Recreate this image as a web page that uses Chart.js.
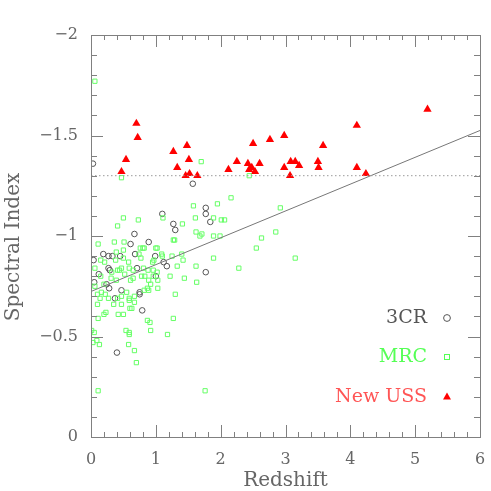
<!DOCTYPE html>
<html>
<head>
<meta charset="utf-8">
<script src="https://cdn.jsdelivr.net/npm/chart.js@4.4.1/dist/chart.umd.min.js"></script>
<style>
  html, body { margin: 0; padding: 0; background: #fff; }
  canvas { display: block; }
</style>
</head>
<body>
<canvas id="chart" width="491" height="491"></canvas>
<script>
(function () {
  'use strict';

  // ============================================================
  //  Data — redshift (z) vs spectral index (alpha)
  // ============================================================
  var crZ     = [0.03, 1.57, 1.77, 1.77, 1.84, 1.10, 1.27, 1.30, 0.67, 0.61, 0.89, 0.19, 0.33, 0.27, 0.45, 0.04, 0.68, 0.99,
                 1.12, 1.17, 0.27, 0.29, 0.71, 1.77, 1.00, 0.12, 0.05, 0.24, 0.28, 0.47, 0.75, 0.75, 0.37, 0.79, 0.40];
  var crAlpha = [-1.36, -1.26, -1.14, -1.11, -1.07, -1.11, -1.06, -1.03, -1.01, -0.96, -0.97, -0.91, -0.90, -0.90, -0.90, -0.88, -0.91, -0.90,
                 -0.87, -0.85, -0.84, -0.83, -0.84, -0.82, -0.80, -0.81, -0.77, -0.76, -0.74, -0.73, -0.72, -0.71, -0.69, -0.63, -0.42];

  var mrcZ     = [0.06, 0.47, 1.70, 2.44, 1.58, 1.95, 2.16, 2.92, 0.50, 0.73, 1.11, 1.61, 1.89, 2.01, 2.06, 0.41, 1.41, 1.62,
                  1.68, 1.71, 1.89, 1.99, 2.85, 2.63, 2.55, 1.27, 1.29, 0.11, 0.36, 0.51, 0.39, 0.50, 0.76, 0.80, 0.82, 1.00,
                  1.02, 1.09, 1.10, 1.25, 1.40, 1.42, 1.89, 2.28, 1.62, 1.33, 0.15, 0.21, 0.38, 0.50, 0.74, 0.77, 0.58, 0.59,
                  0.65, 0.81, 0.95, 0.97, 0.88, 0.96, 1.02, 0.47, 0.41, 0.44, 0.32, 0.06, 0.15, 0.31, 0.52, 0.65, 0.78, 0.83,
                  0.89, 0.96, 1.03, 1.22, 1.44, 1.63, 1.30, 0.61, 0.39, 0.20, 0.16, 0.10, 0.22, 0.55, 0.67, 0.47, 0.59, 0.92,
                  0.87, 0.82, 1.03, 0.06, 0.89, 0.27, 0.14, 0.41, 0.59, 0.67, 0.47, 0.35, 0.10, 0.60, 0.63, 0.50, 0.42, 0.23,
                  0.20, 0.11, 0.87, 0.91, 1.27, 0.92, 1.18, 0.54, 0.59, 0.59, 0.01, 0.05, 0.09, 0.03, 0.13, 0.58, 0.67, 0.70,
                  0.11, 1.76, 3.15];
  var mrcAlpha = [-1.77, -1.29, -1.37, -1.30, -1.15, -1.16, -1.19, -1.14, -1.09, -1.08, -1.09, -1.09, -1.09, -1.08, -1.08, -1.05, -1.06, -1.02,
                  -1.00, -1.01, -1.00, -1.00, -1.02, -0.99, -0.94, -0.98, -0.98, -0.96, -0.97, -0.97, -0.92, -0.93, -0.94, -0.94, -0.94, -0.94,
                  -0.94, -0.91, -0.90, -0.90, -0.91, -0.88, -0.89, -0.84, -0.85, -0.85, -0.88, -0.87, -0.88, -0.89, -0.91, -0.89, -0.87, -0.84,
                  -0.83, -0.84, -0.87, -0.88, -0.83, -0.83, -0.82, -0.84, -0.83, -0.83, -0.82, -0.84, -0.80, -0.79, -0.81, -0.79, -0.80, -0.80,
                  -0.78, -0.80, -0.78, -0.80, -0.79, -0.77, -0.71, -0.78, -0.78, -0.76, -0.72, -0.71, -0.71, -0.72, -0.70, -0.70, -0.69, -0.76,
                  -0.74, -0.73, -0.74, -0.75, -0.73, -0.69, -0.69, -0.69, -0.68, -0.67, -0.66, -0.66, -0.66, -0.64, -0.64, -0.61, -0.61, -0.62,
                  -0.61, -0.59, -0.58, -0.57, -0.59, -0.53, -0.51, -0.53, -0.52, -0.51, -0.53, -0.52, -0.48, -0.47, -0.46, -0.46, -0.43, -0.37,
                  -0.23, -0.23, -0.89];

  var ussZ     = [0.47, 0.54, 0.70, 0.72, 1.27, 1.48, 1.51, 1.33, 1.46, 1.52, 1.64, 2.12, 2.25, 2.42, 2.50, 2.60, 2.44, 2.48,
                  2.53, 2.76, 2.98, 2.98, 3.07, 3.08, 3.15, 3.21, 3.58, 3.50, 3.51, 4.10, 4.10, 4.24, 5.19];
  var ussAlpha = [-1.32, -1.38, -1.56, -1.49, -1.42, -1.45, -1.38, -1.34, -1.30, -1.31, -1.30, -1.33, -1.37, -1.36, -1.46, -1.36, -1.33, -1.34,
                  -1.32, -1.48, -1.50, -1.34, -1.30, -1.37, -1.37, -1.35, -1.45, -1.37, -1.34, -1.55, -1.34, -1.31, -1.63];

  // Linear fit and the USS cut-off
  var fitZ = [0, 6];
  var fitAlpha = [-0.724, -1.525];
  var cutZ = [0, 6];
  var cutAlpha = [-1.3, -1.3];

  var legendLabels = ['3CR', 'MRC', 'New USS'];
  var legendColors = ['#555555', '#55ff55', '#ff5555'];

  function pts(xs, ys) {
    return xs.map(function (x, i) { return { x: x, y: ys[i] }; });
  }

  var FONT = '"DejaVu Serif", serif';
  var INK = '#666666';
  var FRAME = '#808080';

  // ============================================================
  //  Frame, inward ticks, axis titles, legend
  // ============================================================
  var decorPlugin = {
    id: 'decor',
    afterDraw: function (chart) {
      var ctx = chart.ctx;
      var a = chart.chartArea;
      var xs = chart.scales.x, ys = chart.scales.y;
      var v, p, len;

      ctx.save();
      ctx.strokeStyle = FRAME;
      ctx.lineWidth = 1;
      ctx.strokeRect(Math.round(a.left) + 0.5, Math.round(a.top) + 0.5,
                     Math.round(a.right - a.left), Math.round(a.bottom - a.top));

      ctx.beginPath();
      for (var i = 0; i <= 30; i++) {
        v = i * 0.2;
        p = Math.round(xs.getPixelForValue(v)) + 0.5;
        len = (i % 5 === 0) ? 12 : 5;
        ctx.moveTo(p, a.bottom); ctx.lineTo(p, a.bottom - len);
        ctx.moveTo(p, a.top); ctx.lineTo(p, a.top + len);
      }
      for (var j = 0; j <= 20; j++) {
        v = -2 + j * 0.1;
        p = Math.round(ys.getPixelForValue(v)) + 0.5;
        len = (j % 5 === 0) ? 12 : 6;
        ctx.moveTo(a.left, p); ctx.lineTo(a.left + len, p);
        ctx.moveTo(a.right, p); ctx.lineTo(a.right - len, p);
      }
      ctx.stroke();

      // axis titles
      ctx.fillStyle = INK;
      ctx.font = '20px ' + FONT;
      ctx.textAlign = 'center';
      ctx.textBaseline = 'middle';
      ctx.fillText('Redshift', (a.left + a.right) / 2, 481);
      ctx.save();
      ctx.translate(14, 247);
      ctx.rotate(-Math.PI / 2);
      ctx.fillText('Spectral Index', 0, 0);
      ctx.restore();

      // legend
      ctx.font = '19px ' + FONT;
      ctx.textAlign = 'right';
      var ly = [318, 357, 397];
      var mx = 447;
      for (var k = 0; k < legendLabels.length; k++) {
        ctx.fillStyle = legendColors[k];
        ctx.fillText(legendLabels[k], 427, ly[k]);
      }
      ctx.lineWidth = 1;
      ctx.strokeStyle = '#555555';
      ctx.beginPath(); ctx.arc(mx, ly[0], 3.4, 0, Math.PI * 2); ctx.stroke();
      ctx.strokeStyle = '#55ff55';
      ctx.strokeRect(mx - 2.5, ly[1] - 2.5, 5, 5);
      ctx.fillStyle = '#ff0000';
      ctx.beginPath();
      ctx.moveTo(mx, ly[2] - 4.5); ctx.lineTo(mx + 4, ly[2] + 2.5); ctx.lineTo(mx - 4, ly[2] + 2.5);
      ctx.closePath(); ctx.fill();
      ctx.restore();
    }
  };

  // ============================================================
  //  Chart
  // ============================================================
  var ctx = document.getElementById('chart').getContext('2d');
  new Chart(ctx, {
    type: 'scatter',
    data: {
      datasets: [
        {
          type: 'line', label: 'cut', data: pts(cutZ, cutAlpha),
          borderColor: '#9a9a9a', borderWidth: 1, borderDash: [1.5, 2.5],
          pointRadius: 0, fill: false
        },
        {
          type: 'line', label: 'fit', data: pts(fitZ, fitAlpha),
          borderColor: '#777777', borderWidth: 1, pointRadius: 0, fill: false
        },
        {
          label: 'MRC', data: pts(mrcZ, mrcAlpha), pointStyle: 'rect',
          pointRadius: 3, borderColor: '#66ff66', borderWidth: 1, backgroundColor: 'rgba(0,0,0,0)'
        },
        {
          label: '3CR', data: pts(crZ, crAlpha), pointStyle: 'circle',
          pointRadius: 2.8, borderColor: '#555555', borderWidth: 1, backgroundColor: 'rgba(0,0,0,0)'
        },
        {
          label: 'New USS', data: pts(ussZ, ussAlpha), pointStyle: 'triangle',
          pointRadius: 4.8, borderColor: '#ff0000', borderWidth: 0, backgroundColor: '#ff0000'
        }
      ]
    },
    options: {
      responsive: false,
      animation: false,
      devicePixelRatio: 1,
      layout: { padding: { top: 35, right: 11, bottom: 0, left: 0 } },
      plugins: { legend: { display: false }, tooltip: { enabled: false } },
      elements: { point: { hoverRadius: 0 } },
      scales: {
        x: {
          type: 'linear', min: 0, max: 6,
          grid: { display: false, drawTicks: false },
          border: { display: false },
          ticks: { stepSize: 1, color: INK, padding: 13, font: { family: FONT, size: 16 } },
          afterFit: function (scale) {
            // keep the plot box fixed; labels may overhang the edges
            scale.height = 54;
            scale.paddingLeft = 0;
            scale.paddingRight = 0;
          }
        },
        y: {
          type: 'linear', min: -2, max: 0, reverse: true,
          grid: { display: false, drawTicks: false },
          border: { display: false },
          ticks: {
            stepSize: 0.5, color: INK, padding: 13, font: { family: FONT, size: 16 },
            callback: function (value) { return String(value).replace('-', '\u2212'); }
          },
          afterFit: function (scale) { scale.width = 91; }
        }
      }
    },
    plugins: [decorPlugin]
  });
})();
</script>
</body>
</html>
